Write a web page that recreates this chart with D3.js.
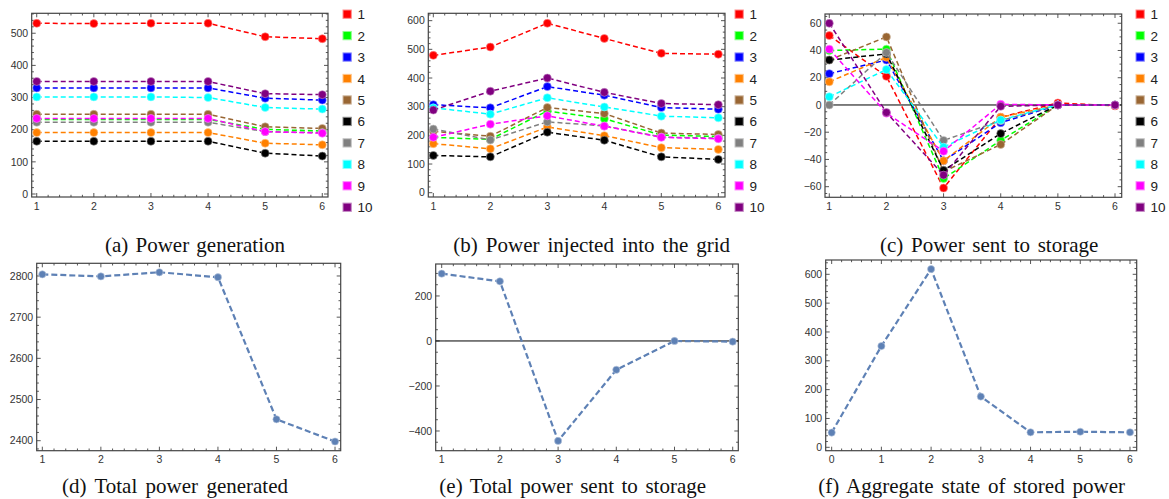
<!DOCTYPE html>
<html><head><meta charset="utf-8">
<script src="https://cdn.jsdelivr.net/npm/d3@7"></script>
<style>
html,body{margin:0;padding:0;background:#fff;}
svg{display:block;}
.tick{font-family:"Liberation Sans",Arial,sans-serif;font-size:10.5px;fill:#333;}
.leg{font-family:"Liberation Sans",Arial,sans-serif;font-size:13.5px;fill:#222;}
.cap{font-family:"Liberation Serif","Times New Roman",serif;font-size:21px;fill:#111;}
</style></head>
<body>
<svg id="c" width="1169" height="499"></svg>
<script>
// ---------- data ----------
const steps = [1, 2, 3, 4, 5, 6];
const stepsStore = [0, 1, 2, 3, 4, 5, 6];
const seriesNames = ["1","2","3","4","5","6","7","8","9","10"];
const seriesColors = ["#ff0000","#00ff00","#0000ff","#ff8000","#996633","#000000","#808080","#00ffff","#ff00ff","#800080"];

const generation = [
  [531, 530, 531, 531, 489, 483],
  [232, 232, 232, 232, 201, 196],
  [330, 330, 330, 330, 298, 292],
  [191, 191, 191, 191, 158, 153],
  [248, 248, 248, 248, 209, 204],
  [164, 164, 164, 164, 127, 118],
  [223, 223, 223, 223, 194, 191],
  [302, 302, 302, 300, 269, 264],
  [235, 235, 235, 235, 194, 189],
  [350, 350, 350, 350, 312, 309]
];
const injected = [
  [479, 508, 591, 538, 486, 483],
  [193, 186, 285, 258, 201, 196],
  [307, 296, 370, 340, 297, 291],
  [171, 153, 229, 199, 157, 151],
  [214, 197, 297, 276, 208, 203],
  [130, 125, 211, 183, 125, 116],
  [222, 184, 247, 233, 194, 190],
  [296, 274, 331, 299, 267, 261],
  [193, 239, 268, 232, 193, 188],
  [288, 354, 400, 350, 311, 307]
];
const sentToStorage = [
  [51, 21, -61, -9, 1.5, -0.7],
  [40, 41, -54, -26, 0, 0],
  [23, 33, -41, -13, 0, 0],
  [17, 35, -41, -9, 0, 0],
  [33, 50, -49, -29, 0, 0],
  [33, 37.5, -48, -21, 0, 0],
  [0, 38.5, -26, -11.5, 0, 0],
  [6, 26, -31, -11, 0, 0],
  [41, -6, -34, 0.5, 0, 0],
  [60, -5.5, -51.5, -1, 0, 0]
];
const totalGenerated = [2804, 2799, 2809, 2797, 2452, 2398];
const totalStorage = [299, 265, -444, -128, 0, -3];
const storedState = [51, 351, 618, 176, 52, 54, 52];

const ticksA = [0, 100, 200, 300, 400, 500];
const ticksB = [0, 100, 200, 300, 400, 500, 600];
const ticksC = [-60, -40, -20, 0, 20, 40, 60];
const ticksD = [2400, 2500, 2600, 2700, 2800];
const ticksE = [-400, -200, 0, 200];
const ticksF = [0, 100, 200, 300, 400, 500, 600];

const captions = ["(a) Power generation","(b) Power injected into the grid","(c) Power sent to storage",
  "(d) Total power generated","(e) Total power sent to storage","(f) Aggregate state of stored power"];

// ---------- drawing ----------
const svg = d3.select("#c");
const blue = "#5e81b5";

function lighten(c, t){ return d3.interpolateRgb(c, "#ffffff")(t); }

function panel(o){
  const g = svg.append("g");
  const x = d3.scaleLinear().domain(o.xd).range([o.l, o.r]);
  const y = d3.scaleLinear().domain(o.yd).range([o.b, o.t]);
  g.append("rect").attr("x",o.l).attr("y",o.t).attr("width",o.r-o.l).attr("height",o.b-o.t)
    .attr("fill","none").attr("stroke","#444").attr("stroke-width",1.2);
  const xMinor = d3.range(Math.ceil(o.xd[0]/0.2)*0.2, o.xd[1]+1e-9, 0.2).filter(v=>Math.abs(v-Math.round(v))>1e-6);
  const xMajor = o.xs;
  const yMinor = d3.range(Math.ceil(o.yd[0]/o.ym)*o.ym, o.yd[1]+1e-9, o.ym).filter(v=>!o.yt.some(t=>Math.abs(t-v)<1e-6));
  const tk = g.append("g").attr("stroke","#444").attr("stroke-width",0.9);
  xMajor.forEach(v=>{ const px=x(v);
    tk.append("line").attr("x1",px).attr("x2",px).attr("y1",o.b).attr("y2",o.b-4);
    tk.append("line").attr("x1",px).attr("x2",px).attr("y1",o.t).attr("y2",o.t+4);});
  xMinor.forEach(v=>{ const px=x(v);
    tk.append("line").attr("x1",px).attr("x2",px).attr("y1",o.b).attr("y2",o.b-2.2);
    tk.append("line").attr("x1",px).attr("x2",px).attr("y1",o.t).attr("y2",o.t+2.2);});
  o.yt.forEach(v=>{ const py=y(v);
    tk.append("line").attr("x1",o.l).attr("x2",o.l+4).attr("y1",py).attr("y2",py);
    tk.append("line").attr("x1",o.r).attr("x2",o.r-4).attr("y1",py).attr("y2",py);});
  yMinor.forEach(v=>{ const py=y(v);
    tk.append("line").attr("x1",o.l).attr("x2",o.l+2.2).attr("y1",py).attr("y2",py);
    tk.append("line").attr("x1",o.r).attr("x2",o.r-2.2).attr("y1",py).attr("y2",py);});
  xMajor.forEach(v=> g.append("text").attr("class","tick").attr("x",x(v)).attr("y",o.b+12.5)
     .attr("text-anchor","middle").text(v));
  o.yt.forEach(v=> g.append("text").attr("class","tick").attr("x",o.l-3.5).attr("y",y(v)+3.7)
     .attr("text-anchor","end").text(v<0?"\u2212"+Math.abs(v):v));
  if(o.zero){
    g.append("line").attr("x1",o.l).attr("x2",o.r).attr("y1",y(0)).attr("y2",y(0))
     .attr("stroke","#000").attr("stroke-width",1);
  }
  const line = d3.line().x(d=>x(d[0])).y(d=>y(d[1]));
  o.series.forEach((s,i)=>{
    const pts = o.xs.map((xv,k)=>[xv, s[k]]);
    const c = o.colors[i];
    g.append("path").attr("d",line(pts)).attr("fill","none").attr("stroke",c)
      .attr("stroke-width",o.lw).attr("stroke-dasharray",o.dash);
    g.selectAll(null).data(pts).enter().append("circle")
      .attr("cx",d=>x(d[0])).attr("cy",d=>y(d[1])).attr("r",o.rad)
      .attr("fill",c).attr("stroke",lighten(c,0.55)).attr("stroke-width",0.6);
  });
  if(o.legend){
    const ly = d3.scaleLinear().domain([0,9]).range([14.2,207.3]);
    seriesNames.forEach((n,i)=>{
      g.append("rect").attr("x",o.legend).attr("y",ly(i)-4.2).attr("width",8.3).attr("height",8.3)
        .attr("fill",seriesColors[i]).attr("stroke",lighten(seriesColors[i],0.55)).attr("stroke-width",1);
      g.append("text").attr("class","leg").attr("x",o.legend+14.5).attr("y",ly(i)+5).text(n);
    });
  }
  const cap = g.append("text").attr("class","cap").attr("x",o.cx).attr("y",o.cy)
     .attr("text-anchor","middle").text(o.cap);
  if(o.cw){
    const nat = cap.node().getComputedTextLength();
    const nSp = (o.cap.match(/ /g)||[]).length;
    const ws = Math.max(0, (o.cw - nat)/nSp);
    cap.style("word-spacing", ws + "px");
  }
}

panel({l:31.7,r:328,t:13.3,b:197,xd:[0.912,6.1],yd:[-9.3,562],xs:steps,yt:ticksA,ym:20,
  series:generation,colors:seriesColors,lw:1.5,dash:"5,3",rad:4,legend:343,
  cap:captions[0],cx:195,cy:251.5,cw:180});
panel({l:428.3,r:725,t:13.3,b:197,xd:[0.912,6.117],yd:[-15,625.7],xs:steps,yt:ticksB,ym:20,
  series:injected,colors:seriesColors,lw:1.5,dash:"5,3",rad:4,legend:735,
  cap:captions[1],cx:591.7,cy:251.5,cw:276.7});
panel({l:825,r:1121.7,t:14,b:197.3,xd:[0.925,6.117],yd:[-67.8,66.8],xs:steps,yt:ticksC,ym:5,
  series:sentToStorage,colors:seriesColors,lw:1.5,dash:"5,3",rad:4,legend:1136,zero:true,
  cap:captions[2],cx:989.2,cy:251.5,cw:218.3});
panel({l:36.7,r:340.7,t:263.3,b:450.7,xd:[0.904,6.097],yd:[2375.7,2830.8],xs:steps,yt:ticksD,ym:20,
  series:[totalGenerated],colors:[blue],lw:2.2,dash:"6,3",rad:3.6,
  cap:captions[3],cx:175,cy:492.5,cw:226});
panel({l:435.7,r:738.3,t:264,b:450.7,xd:[0.897,6.096],yd:[-487.6,342],xs:steps,yt:ticksE,ym:50,
  series:[totalStorage],colors:[blue],lw:2.2,dash:"6,3",rad:3.6,zero:true,
  cap:captions[4],cx:572.7,cy:492.5,cw:266.7});
panel({l:825.7,r:1136.7,t:260,b:450.7,xd:[-0.12,6.135],yd:[-11.8,649.6],xs:stepsStore,yt:ticksF,ym:20,
  series:[storedState],colors:[blue],lw:2.2,dash:"6,3",rad:3.6,
  cap:captions[5],cx:971.7,cy:492.5,cw:306.7});
</script>
</body></html>
